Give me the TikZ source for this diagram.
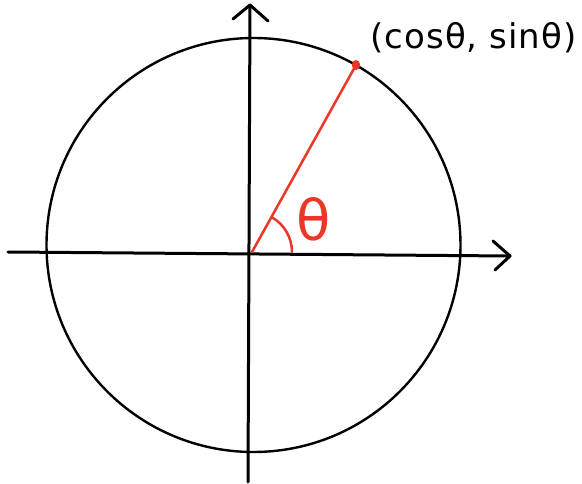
\documentclass[tikz,border=0pt]{standalone}
\usepackage{fontspec}
\setmainfont{DejaVu Sans}
\newfontfamily\handfont[LetterSpace=3]{DejaVu Sans}
\definecolor{penred}{RGB}{235,55,40}
\begin{document}
\begin{tikzpicture}[x=1pt,y=1pt,
  axisline/.style={line width=3pt,line cap=round,line join=round,black},
  circleline/.style={line width=2.4pt,black},
  redline/.style={line width=2.5pt,penred,line cap=round}]
\useasboundingbox (0,0) rectangle (582,-484);
\coordinate (O) at (252,-252);
\coordinate (C) at (253.5,-245);
\coordinate (xl) at (8,-252);
\coordinate (xr) at (510,-256);
\coordinate (yt) at (250,-5);
\coordinate (yb) at (248,-482);
\coordinate (P) at (356,-65);
% circle
\draw[circleline] (C) circle[radius=207];
% axes
\draw[axisline] (xl) -- (xr);
\draw[axisline] (yb) -- (yt);
\draw[axisline] (233,-19) -- (yt) -- (268,-21);
\draw[axisline] (493,-241) -- (xr) -- (495,-270);
% radius and angle
\draw[redline] (O) -- (P);
\fill[penred] (P) ellipse[x radius=4.2, y radius=5];
\draw[redline] ([shift={(60:40)}]O) arc[start angle=60,end angle=0,radius=40];
\node[penred,font=\fontsize{56}{56}\selectfont,inner sep=0pt] (th) at (314,-219) {θ};
\node[font=\handfont\fontsize{34}{34}\selectfont,inner sep=0pt] (lbl) at (473.5,-38) {(cosθ, sinθ)};
\end{tikzpicture}
\end{document}
